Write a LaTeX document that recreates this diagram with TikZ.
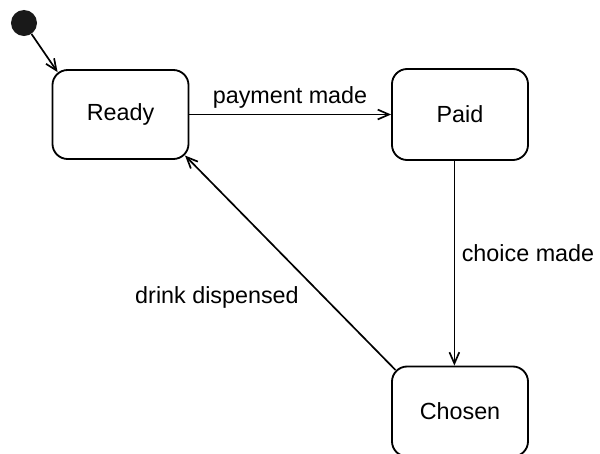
\documentclass[tikz,border=0pt]{standalone}
\usepackage{fontspec}
\setmainfont{Liberation Sans}
\usetikzlibrary{arrows.meta,positioning,calc}

\tikzset{
  state/.style={draw,line width=1.3pt,rounded corners=0.38cm,
    minimum width=3.4cm,minimum height=2.225cm,inner sep=0pt},
  trans/.style={line width=1.2pt,-{Straight Barb[length=8pt,width=7pt,line width=1.2pt]}},
  lbl/.style={inner sep=0pt}
}

\begin{document}
\begin{tikzpicture}[x=0.025cm,y=-0.025cm,font=\fontsize{16.6}{20}\selectfont]
\useasboundingbox (0,0) rectangle (600,454);
    % states
    \node[circle,fill=black!90,minimum size=0.65cm,inner sep=0pt] (init) at (24,23) {};
    \node[state] (ready) at (120.5,114.5) {Ready};
    \node[state,minimum height=2.275cm] (paid) at (460,114.5) {Paid};
    \node[state,minimum height=2.25cm] (chosen) at (460,411.5) {Chosen};
    % transitions
    \draw[trans] (init) -- ([shift={(6,3)}]ready.north west);
    \draw[trans] (ready.east) -- (paid.west);
    \draw[trans] ([xshift=-4]paid.south) -- ([xshift=-4]chosen.north);
    \draw[trans] ([shift={(4.4,4.4)}]chosen.north west) -- ([shift={(-4.4,-4.4)}]ready.south east);
    % labels
    \node[lbl] (lpay) at (290,97) {payment made};
    \node[lbl] (lchoice) at (528,253) {choice made};
    \node[lbl] (ldrink) at (217,297) {drink dispensed};
\end{tikzpicture}
\end{document}
